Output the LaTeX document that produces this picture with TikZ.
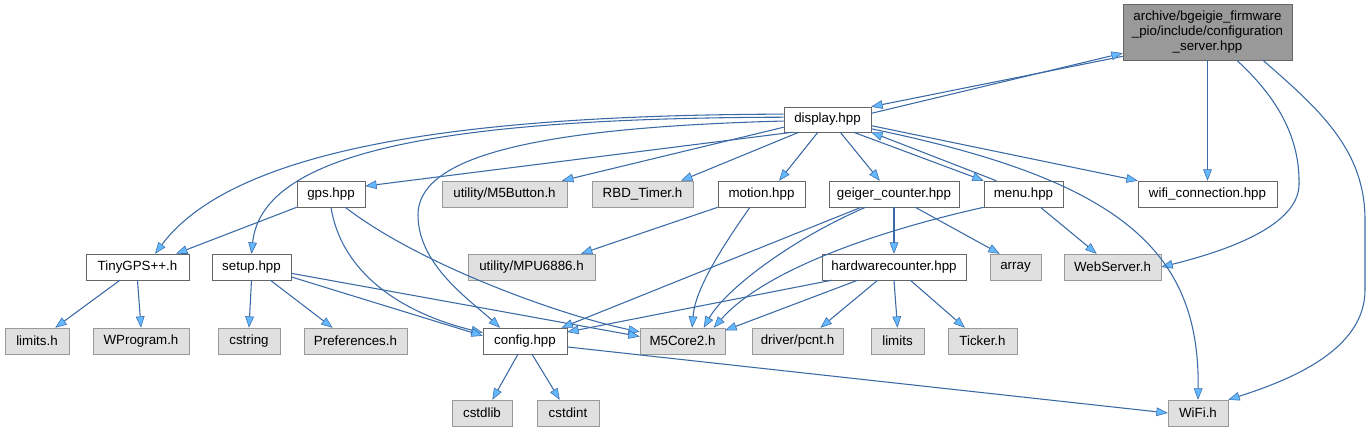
\documentclass[tikz,border=0pt]{standalone}
\usepackage{fontspec}
\setmainfont{Liberation Sans}
\usetikzlibrary{arrows.meta}

\definecolor{edgeblue}{HTML}{3A6AA6}
\definecolor{headblue}{HTML}{63B8FF}
\definecolor{extfill}{HTML}{E0E0E0}
\definecolor{rootfill}{HTML}{999999}

\begin{document}
\begin{tikzpicture}[
  x=0.75pt, y=-0.75pt,
  every node/.style={font=\fontsize{10}{11.25}\selectfont},
  hdr/.style={draw=black!60, inner sep=0pt, minimum height=19.5pt},
  local/.style={hdr, fill=white},
  sys/.style={hdr, draw=black!40, fill=extfill},
  wd/.style={minimum width=#1*0.75pt},
  inc/.style={draw=edgeblue, line width=0.8pt,
    -{Triangle[length=8.5pt,width=6.5pt,fill=headblue,line width=0.4pt]}},
]
\useasboundingbox (0,0) rectangle (1371,432);

% the documented header
\node[hdr, fill=rootfill, wd=169, minimum height=42pt, align=center] (root) at (1207.5,32)
  {archive/bgeigie\_firmware\\\_pio/include/configuration\\\_server.hpp};

% level 1
\node[local, wd=87, minimum height=18.75pt] (display) at (827.5,119.5) {display.hpp};

% level 2
\node[local, wd=68]  (gps)      at (331,194)    {gps.hpp};
\node[sys,   wd=125] (m5button) at (504.5,194)  {utility/M5Button.h};
\node[sys,   wd=101] (rbdtimer) at (642.5,194)  {RBD\_Timer.h};
\node[local, wd=87]  (motion)   at (761.5,194)  {motion.hpp};
\node[local, wd=130] (geiger)   at (894,194)    {geiger\_counter.hpp};
\node[local, wd=79]  (menu)     at (1023.5,194) {menu.hpp};
\node[local, wd=139] (wificonn) at (1207.5,194) {wifi\_connection.hpp};

% level 3
\node[local, wd=103] (tinygps)   at (137.5,267)  {TinyGPS++.h};
\node[local, wd=79]  (setup)     at (251.5,267)  {setup.hpp};
\node[sys,   wd=127] (mpu)       at (531.5,267)  {utility/MPU6886.h};
\node[local, wd=144] (hwcounter) at (894,267)    {hardwarecounter.hpp};
\node[sys,   wd=51]  (array)     at (1015.5,267) {array};
\node[sys,   wd=97]  (webserver) at (1112.5,267) {WebServer.h};

% level 4
\node[sys,   wd=64]  (limitsh)  at (37,341)    {limits.h};
\node[sys,   wd=96]  (wprogram) at (141,341)   {WProgram.h};
\node[sys,   wd=62]  (cstring)  at (249,341)   {cstring};
\node[sys,   wd=103] (prefs)    at (355.5,341) {Preferences.h};
\node[local, wd=84]  (config)   at (525,341)   {config.hpp};
\node[sys,   wd=85]  (m5core2)  at (682.5,341) {M5Core2.h};
\node[sys,   wd=91]  (pcnt)     at (797.5,341) {driver/pcnt.h};
\node[sys,   wd=53]  (limits)   at (897.5,341) {limits};
\node[sys,   wd=69]  (ticker)   at (982.5,341) {Ticker.h};

% level 5
\node[sys, wd=60] (cstdlib) at (482,413)  {cstdlib};
\node[sys, wd=62] (cstdint) at (568,413)  {cstdint};
\node[sys, wd=60] (wifih)   at (1198,413) {WiFi.h};

% includes of the header
\draw[inc] (root.196) -- (display.north east);
\draw[inc] (display.8) -- (root.194);
\draw[inc] (root.south) -- (wificonn.north);
\draw[inc] (root.316) .. controls (1280,100) and (1300,140) .. (1299,185)
  .. controls (1298,225) and (1230,250) .. (webserver.east);
\draw[inc] (root.333) .. controls (1320,110) and (1365,150) .. (1365,220)
  -- (1365,290) .. controls (1365,350) and (1290,380) .. (wifih.north east);

% includes of display.hpp
\draw[inc] (display.173) .. controls (500,115) and (240,140) .. (tinygps.37);
\draw[inc] (display.177) .. controls (450,118) and (262,150) .. (setup.north);
\draw[inc] (display.182) .. controls (520,128) and (418,160) .. (418,215)
  .. controls (418,265) and (470,300) .. (config.152);
\draw[inc] (display.200) -- (gps.13);
\draw[inc] (display.190) -- (m5button.13);
\draw[inc] (display.204) -- (rbdtimer.19);
\draw[inc] (display.233) -- (motion.37);
\draw[inc] (display.315) -- (geiger.137);
\draw[inc] (display.334) -- (menu.north west);
\draw[inc] (menu.154) -- (display.south east);
\draw[inc] (display.352) -- (wificonn.north west);
\draw[inc] (display.348) .. controls (1120,180) and (1200,250) .. (wifih.north);

% gps.hpp and setup.hpp
\draw[inc] (gps.south west) -- (tinygps.19);
\draw[inc] (gps.south) .. controls (340,265) and (390,310) .. (config.169);
\draw[inc] (gps.317) .. controls (420,265) and (560,315) .. (m5core2.168);
\draw[inc] (setup.south) -- (cstring.north);
\draw[inc] (setup.325) -- (prefs.150);
\draw[inc] (setup.346) -- (config.173);
\draw[inc] (setup.351) -- (m5core2.174);

% motion, geiger counter and menu
\draw[inc] (motion.south west) -- (mpu.15);
\draw[inc] (motion.229) .. controls (720,250) and (695,290) .. (m5core2.54);
\draw[inc] (geiger.south) -- (hwcounter.north);
\draw[inc] (geiger.328) -- (array.140);
\draw[inc] (geiger.202) -- (config.20);
\draw[inc] (geiger.205) .. controls (790,240) and (725,290) .. (m5core2.32);
\draw[inc] (menu.south west) .. controls (860,235) and (760,275) .. (m5core2.23);
\draw[inc] (menu.322) -- (webserver.140);

% hardwarecounter.hpp
\draw[inc] (hwcounter.192) -- (config.12);
\draw[inc] (hwcounter.200) -- (m5core2.14);
\draw[inc] (hwcounter.219) -- (pcnt.30);
\draw[inc] (hwcounter.south) -- (limits.north);
\draw[inc] (hwcounter.321) -- (ticker.143);

% TinyGPS++.h and config.hpp
\draw[inc] (tinygps.217) -- (limitsh.36);
\draw[inc] (tinygps.south) -- (wprogram.north);
\draw[inc] (config.242) -- (cstdlib.52);
\draw[inc] (config.298) -- (cstdint.122);
\draw[inc] (config.352) -- (wifih.west);
\end{tikzpicture}
\end{document}
